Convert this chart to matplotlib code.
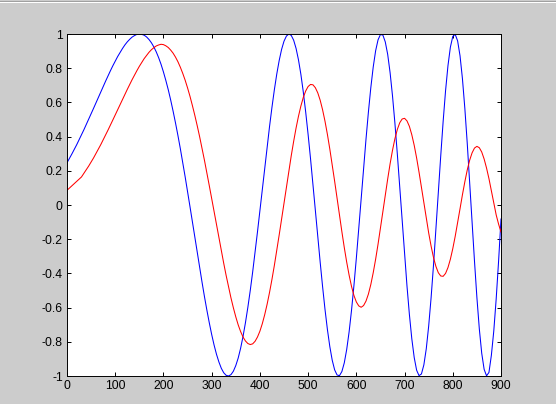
import numpy as np
import matplotlib
matplotlib.use("Agg")
import matplotlib.pyplot as plt
from matplotlib.lines import Line2D

# sample index, every 5th point
x = list(range(0, 901, 5))

blue = [
    0.247, 0.272, 0.298, 0.325, 0.352, 0.381, 0.410, 0.440, 0.471, 0.502,
    0.533, 0.565, 0.597, 0.629, 0.661, 0.693, 0.724, 0.755, 0.785, 0.814,
    0.841, 0.868, 0.892, 0.915, 0.936, 0.954, 0.969, 0.982, 0.991, 0.998,
    1.000, 0.998, 0.993, 0.983, 0.968, 0.949, 0.925, 0.896, 0.862, 0.823,
    0.778, 0.728, 0.674, 0.614, 0.549, 0.480, 0.407, 0.330, 0.249,
    0.165, 0.079, -0.009, -0.098, -0.188, -0.277, -0.365, -0.451, -0.535, -0.614,
    -0.688, -0.757, -0.819, -0.873, -0.918, -0.955, -0.981, -0.996, -1.000, -0.992,
    -0.972, -0.939, -0.895, -0.838, -0.769, -0.689, -0.599, -0.500, -0.392, -0.277,
    -0.157, -0.033, 0.092, 0.218, 0.340, 0.459, 0.571, 0.674, 0.766, 0.845,
    0.910, 0.958, 0.988, 1.000, 0.992, 0.964, 0.916, 0.849, 0.764, 0.661,
    0.543, 0.412, 0.271, 0.122, -0.031, -0.184, -0.334, -0.477, -0.610, -0.728,
    -0.828, -0.908, -0.964, -0.994, -0.998, -0.974, -0.923, -0.845, -0.742, -0.616,
    -0.471, -0.311, -0.140, 0.036, 0.213, 0.384, 0.543, 0.686, 0.807, 0.902,
    0.966, 0.997, 0.994, 0.954, 0.881, 0.774, 0.638, 0.478, 0.298, 0.105,
    -0.093, -0.288, -0.473, -0.640, -0.782, -0.892, -0.966, -0.998, -0.988, -0.935,
    -0.841, -0.708, -0.543, -0.352, -0.143, 0.073, 0.287, 0.489, 0.668, 0.815,
    0.923, 0.986, 0.998, 0.960, 0.873, 0.739, 0.565, 0.360, 0.135, -0.099,
    -0.328, -0.541, -0.724, -0.867, -0.961, -0.999, -0.979, -0.879, -0.737, -0.549,
    -0.327, -0.082,
]

red = [
    0.086, 0.099, 0.112, 0.125, 0.138, 0.151, 0.164, 0.185, 0.206, 0.228,
    0.251, 0.275, 0.301, 0.327, 0.353, 0.381, 0.409, 0.438, 0.467, 0.497,
    0.527, 0.557, 0.587, 0.617, 0.647, 0.676, 0.705, 0.733, 0.760, 0.786,
    0.811, 0.834, 0.856, 0.875, 0.893, 0.908, 0.920, 0.930, 0.936, 0.940,
    0.938, 0.931, 0.921,
    0.906, 0.888, 0.865, 0.838, 0.806, 0.770, 0.730, 0.685, 0.636, 0.582,
    0.525, 0.464, 0.400, 0.332, 0.262, 0.189, 0.114, 0.038, -0.039, -0.116,
    -0.192, -0.267, -0.341, -0.412, -0.479, -0.543, -0.601, -0.654, -0.701, -0.740,
    -0.772, -0.795, -0.810, -0.816, -0.812, -0.797, -0.772, -0.738, -0.694, -0.641,
    -0.580, -0.511, -0.435, -0.353, -0.266, -0.175, -0.082, 0.013, 0.107, 0.199,
    0.288, 0.372, 0.450, 0.519, 0.579, 0.629, 0.667, 0.693, 0.705, 0.703,
    0.686, 0.656, 0.613, 0.557, 0.490, 0.413, 0.327, 0.235, 0.139, 0.040,
    -0.059, -0.156, -0.249, -0.334, -0.410, -0.476, -0.529, -0.567, -0.590, -0.598,
    -0.588, -0.562, -0.521, -0.465, -0.396, -0.317, -0.229, -0.135, -0.039, 0.058,
    0.152, 0.241, 0.320, 0.388, 0.442, 0.481, 0.503, 0.507, 0.492, 0.460,
    0.411, 0.349, 0.275, 0.192, 0.103, 0.012, -0.078, -0.163, -0.240, -0.307,
    -0.359, -0.396, -0.415, -0.417, -0.400, -0.366, -0.317, -0.255, -0.183, -0.104,
    -0.022, 0.060, 0.136, 0.205, 0.262, 0.305, 0.333, 0.343, 0.335, 0.310,
    0.269, 0.216, 0.154, 0.084, 0.013, -0.058, -0.112, -0.158,
]

xticks = [0, 100, 200, 300, 400, 500, 600, 700, 800, 900]
yticks = [-1, -0.8, -0.6, -0.4, -0.2, 0, 0.2, 0.4, 0.6, 0.8, 1]

plt.rcParams['font.family'] = ['Liberation Sans', 'DejaVu Sans']

fig = plt.figure(figsize=(5.56, 4.04), dpi=100, facecolor="#cccccc")
ax = fig.add_axes([0.1205, 0.0693, 0.7806, 0.8465])

ax.plot(x, blue, color="#0000ff", lw=0.75)
ax.plot(x, red, color="#ff0000", lw=0.75)

ax.set_xlim(0, 900)
ax.set_ylim(-1, 1)
ax.set_xticks(xticks)
ax.set_yticks(yticks)
ax.set_yticklabels(["%g" % v for v in yticks])
ax.tick_params(direction="in", top=True, right=True, length=3.2, width=0.7,
               labelsize=8.7, pad=3, colors="black")
for s in ax.spines.values():
    s.set_linewidth(0.7)

# window border bits
fig.add_artist(Line2D([0, 1], [1 - 0.5 / 404, 1 - 0.5 / 404], color="#a0a0a0", lw=0.72))
fig.add_artist(Line2D([0, 1], [1 - 1.5 / 404, 1 - 1.5 / 404], color="white", lw=0.72))
fig.add_artist(Line2D([1 - 0.5 / 556, 1 - 0.5 / 556], [0, 1], color="#6e6660", lw=0.72))

fig.savefig("out.png", dpi=100, facecolor=fig.get_facecolor())
